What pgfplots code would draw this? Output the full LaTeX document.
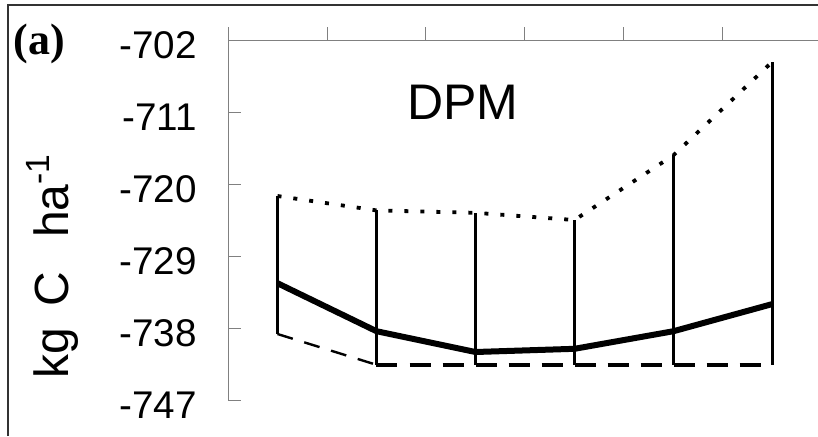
\documentclass[border=0pt]{standalone}
\usepackage{pgfplots}
\usepackage{pgfplotstable}
\pgfplotsset{compat=1.18}
\usepackage{fontspec}
\setmainfont{Liberation Sans}
\newfontfamily\serifb{Liberation Serif}

\pgfplotstableread{
x mean lo hi
1 -732.4 -738.75 -721.5
2 -738.4 -742.6 -723.3
3 -741.0 -742.6 -723.6
4 -740.6 -742.6 -724.5
5 -738.4 -742.6 -716.4
6 -735.0 -742.6 -704.7
}\dpm

\begin{document}
\begin{tikzpicture}
\useasboundingbox (0,0) rectangle (409pt,218pt);
\draw[black!80, line width=1pt] (4pt,0) -- (4pt,215.5pt) -- (409pt,215.5pt);
\node[anchor=west, inner sep=0pt, font=\serifb\bfseries\fontsize{22}{26}\selectfont] at (6.5pt,196pt) {(a)};
\node[rotate=90, anchor=base, inner sep=0pt, font=\fontsize{24}{28}\selectfont] at (34pt,85pt) {kg\hspace{0.45em}C\hspace{0.7em}ha\textsuperscript{-1}};
\begin{axis}[
  at={(114pt,18pt)}, anchor=south west,
  scale only axis, width=295.5pt, height=180pt,
  xmin=0.5, xmax=6.47, ymin=-747, ymax=-702,
  axis x line*=top, axis y line*=left,
  clip=false,
  xtick={1.5,2.5,3.5,4.5,5.5}, xticklabels={},
  ytick={-747,-738,-729,-720,-711,-702},
  yticklabels={-747,-738,-729,-720,-711,-702},
  tick align=inside,
  major tick length=6.3pt,
  xtick style={yshift=6.5pt},
  tick style={gray, line width=0.5pt},
  axis line style={gray, line width=0.5pt},
  yticklabel style={font=\fontsize{19.3}{23}\selectfont, anchor=east, inner sep=0pt, xshift=-15.5pt, yshift=-2.5pt},
]
\draw[gray, line width=0.5pt] (axis cs:0.5,-702) -- (axis cs:0.5,-700.4);
\addplot[draw=none, mark=none, forget plot,
  error bars/.cd, y dir=both, y explicit, error mark=none,
  error bar style={black, line width=1.2pt}]
  table[x=x, y=mean, y error plus expr=\thisrow{hi}-\thisrow{mean}, y error minus expr=\thisrow{mean}-\thisrow{lo}] {\dpm};
\addplot[black, line width=1.9pt, dash pattern=on 2pt off 6pt] table[x=x, y=hi] {\dpm};
\addplot[black, line width=1.2pt, dash pattern=on 8pt off 6pt, skip coords between index={2}{6}] table[x=x, y=lo] {\dpm};
\addplot[black, line width=2.1pt, dash pattern=on 10.5pt off 6pt, skip coords between index={0}{1}] table[x=x, y=lo] {\dpm};
\addplot[black, line width=3pt, line join=round] table[x=x, y=mean] {\dpm};
\node[inner sep=0pt, font=\fontsize{25}{30}\selectfont] at (axis cs:2.874,-709.8) {DPM};
\end{axis}
\end{tikzpicture}
\end{document}
